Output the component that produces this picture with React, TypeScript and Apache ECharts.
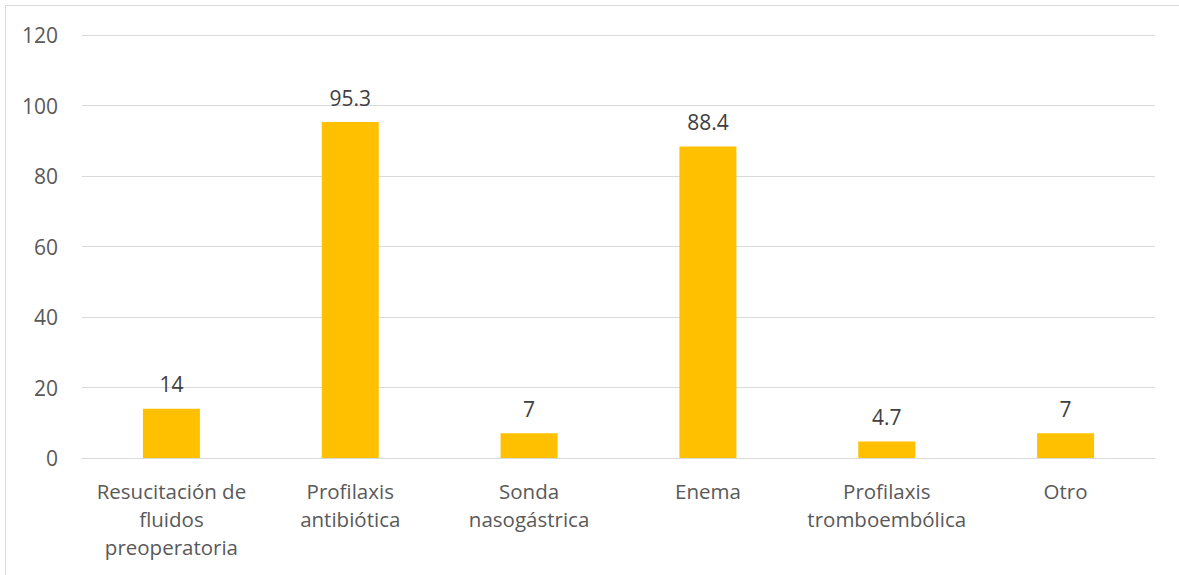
import React, { useEffect, useRef } from "react";
import * as echarts from "echarts";

const categories = [
  "Resucitación de\nfluidos\npreoperatoria",
  "Profilaxis\nantibiótica",
  "Sonda\nnasogástrica",
  "Enema",
  "Profilaxis\ntromboembólica",
  "Otro",
];
const values = [14, 95.3, 7, 88.4, 4.7, 7];
const yTicks = { min: 0, max: 120, interval: 20 };

const FONT = "'Open Sans', sans-serif";
const TEXT = "#595959";

export default function App() {
  const ref = useRef<HTMLDivElement>(null);
  useEffect(() => {
    if (!ref.current) return;
    const chart = echarts.init(ref.current, undefined, { renderer: "svg" });
    chart.setOption({
      animation: false,
      textStyle: { fontFamily: FONT },
      graphic: [
        {
          type: "rect",
          shape: { x: 5.5, y: 5.5, width: 1300, height: 700 },
          style: { fill: "none", stroke: "#d9d9d9", lineWidth: 1 },
          silent: true,
        },
      ],
      grid: { left: 82, right: 24, top: 35, bottom: 117, containLabel: false },
      xAxis: {
        type: "category",
        data: categories,
        axisLine: { show: true, lineStyle: { color: "#d9d9d9", width: 1 } },
        axisTick: { show: false },
        axisLabel: {
          color: TEXT,
          fontSize: 20.5,
          fontFamily: FONT,
          lineHeight: 28,
          margin: 19,
          interval: 0,
        },
      },
      yAxis: {
        type: "value",
        min: yTicks.min,
        max: yTicks.max,
        interval: yTicks.interval,
        axisLine: { show: false },
        axisTick: { show: false },
        splitLine: { lineStyle: { color: "#d9d9d9", width: 1 } },
        axisLabel: { color: TEXT, fontSize: 21, fontFamily: FONT, margin: 24 },
      },
      series: [
        {
          type: "bar",
          data: values,
          barWidth: 57,
          itemStyle: { color: "#ffc000" },
          label: {
            show: true,
            position: "top",
            distance: 14,
            color: "#404040",
            fontSize: 21,
            fontFamily: FONT,
          },
        },
      ],
    });
    return () => chart.dispose();
  }, []);
  return (
    <div
      ref={ref}
      style={{ position: "fixed", left: 0, top: 0, width: 1179, height: 575, background: "#fff" }}
    />
  );
}
